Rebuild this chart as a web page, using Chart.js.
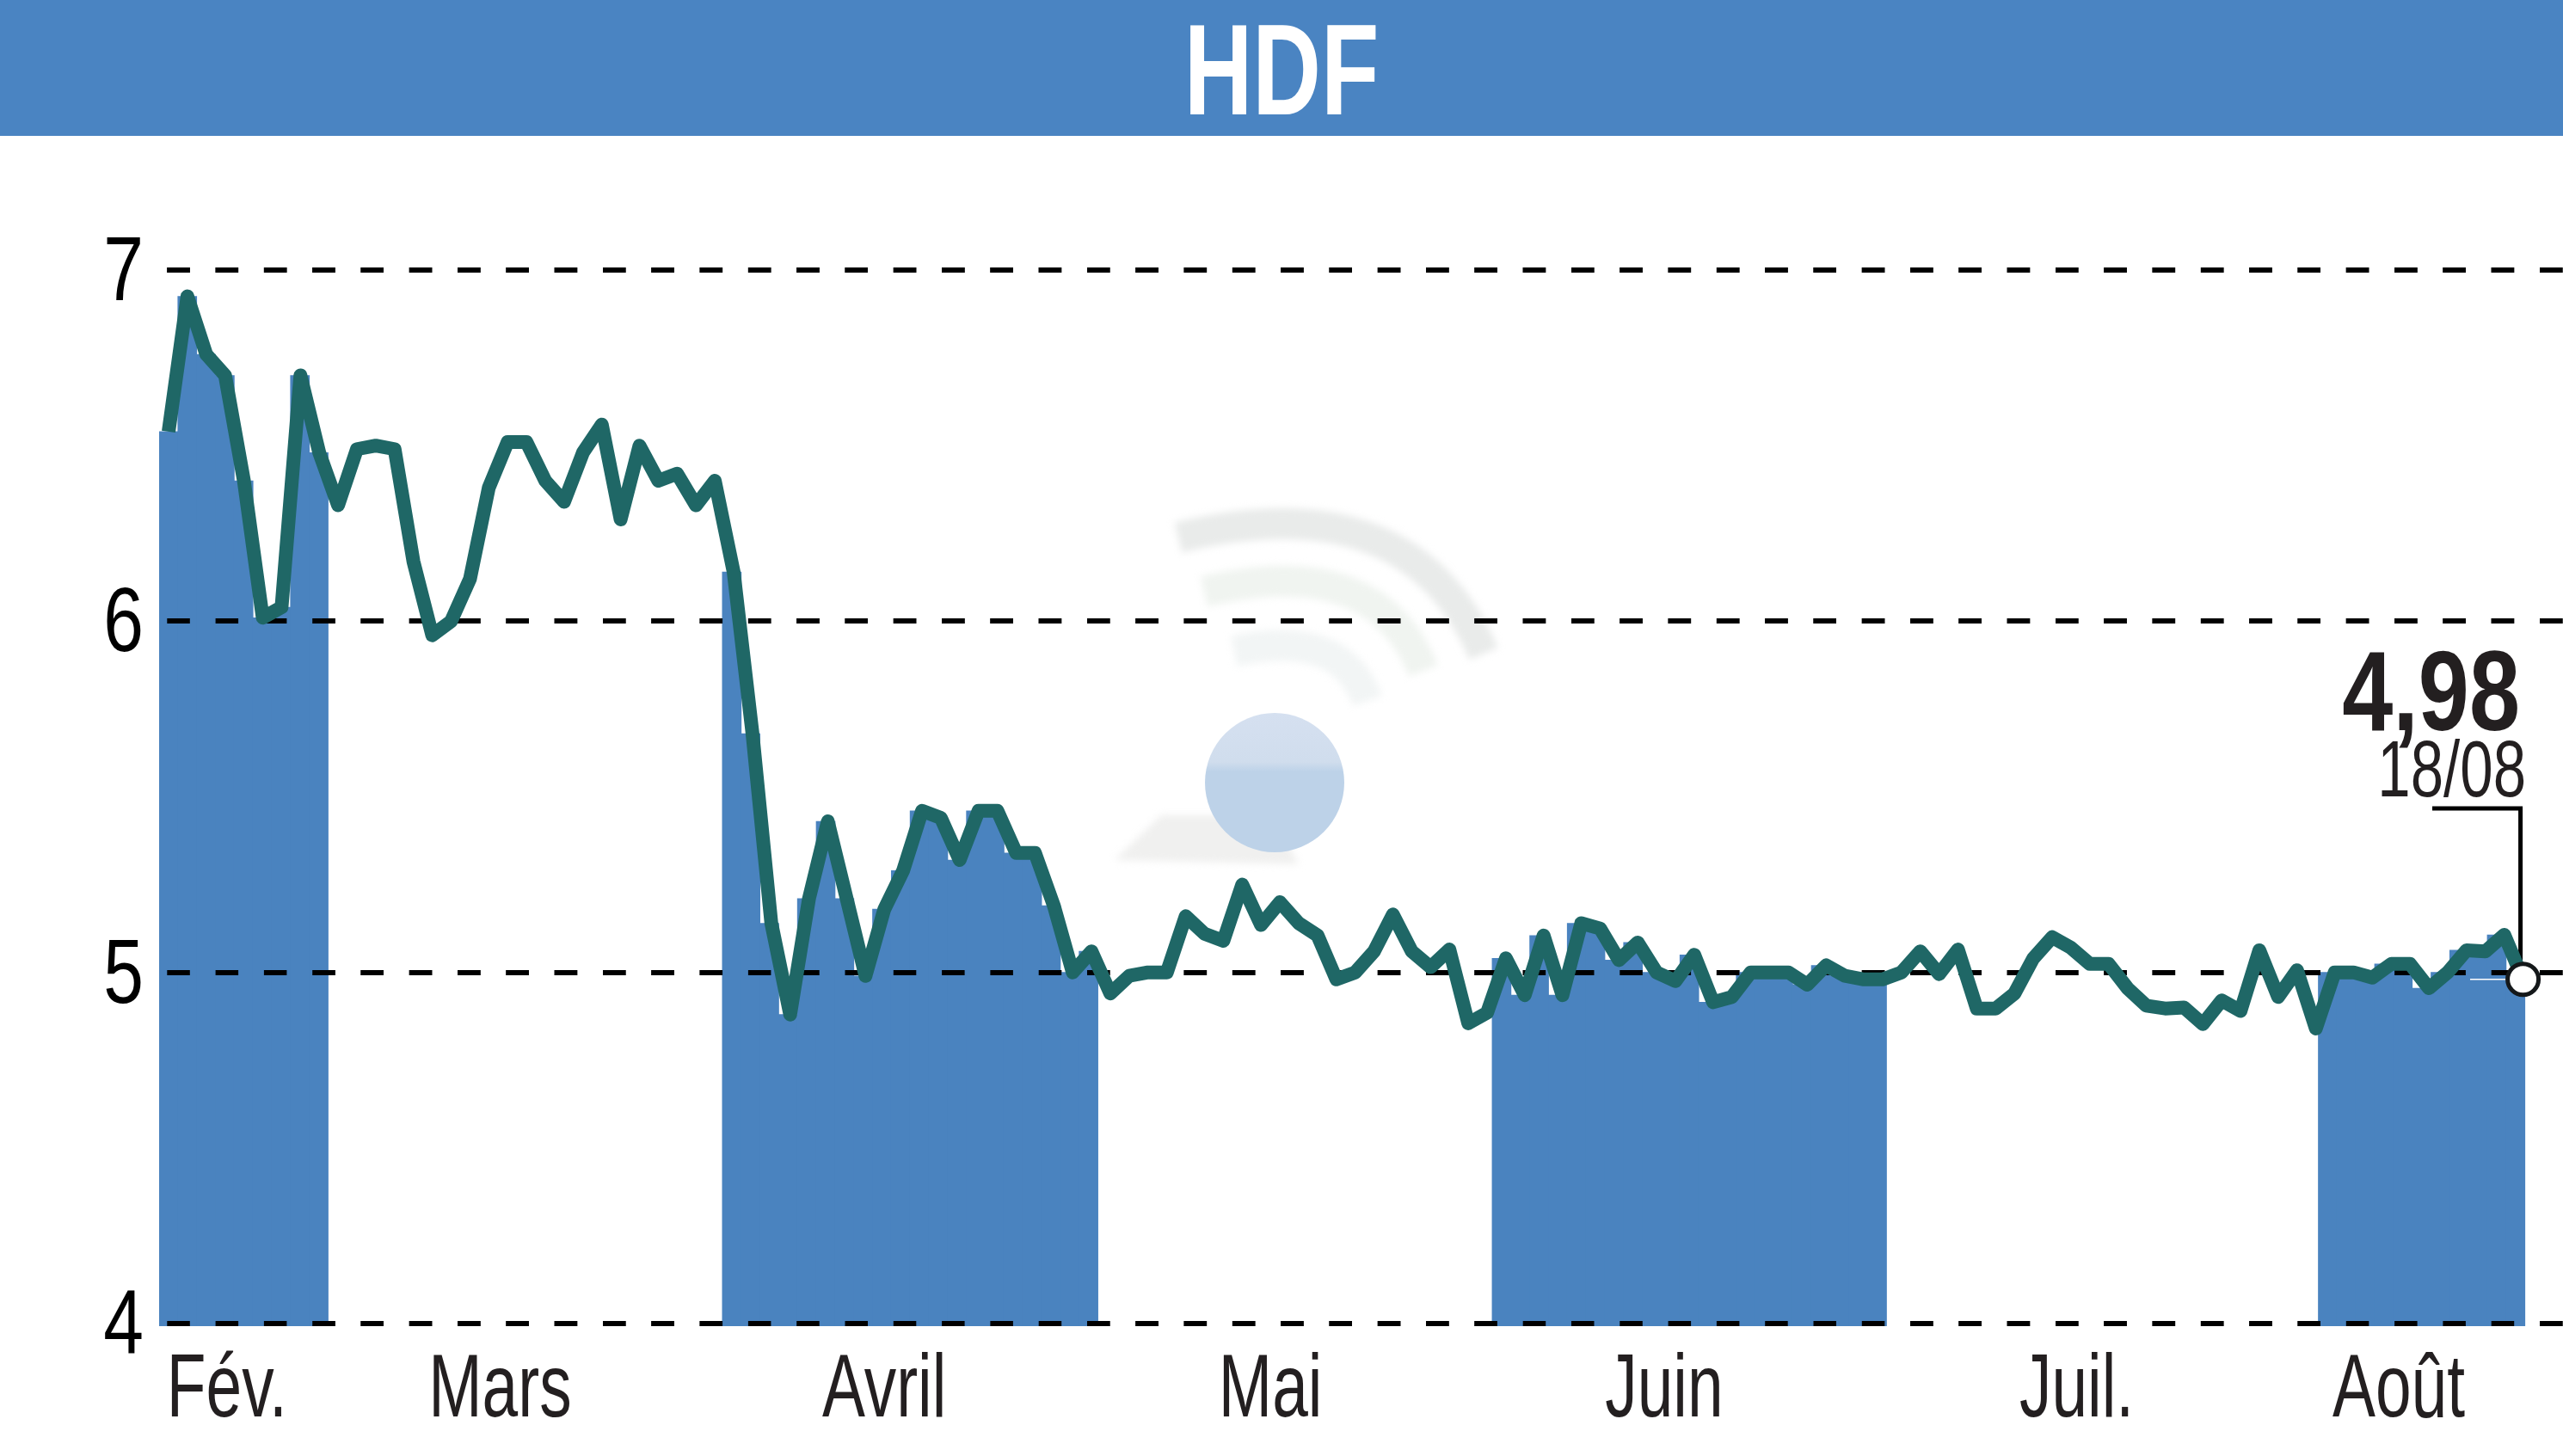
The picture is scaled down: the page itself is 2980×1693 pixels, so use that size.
<!DOCTYPE html>
<html lang="fr"><head><meta charset="utf-8"><title>HDF</title>
<style>html,body{margin:0;padding:0;background:#fff}canvas{display:block}</style>
<script src="https://cdn.jsdelivr.net/npm/chart.js@4"></script></head>
<body><canvas id="c" width="2980" height="1693"></canvas>
<script>
const titleText = 'HDF';
const monthLabels = ['Fév.','Mars','Avril','Mai','Juin','Juil.','Août'];
const monthTickPos = [3.1,17.6,38.0,58.5,79.4,101.3,118.4];
const yTicks = [4,5,6,7];
const dateLabel = '18/08';
const fev = [6.54,6.925,6.76,6.70,6.40,6.01,6.04,6.70,6.48];
const mars = [6.33,6.49,6.50,6.49,6.17,5.96,6.00,6.12,6.38,6.51,6.51,6.40,6.34,6.48,6.56,6.29,6.50,6.40,6.42,6.33,6.40];
const avril = [6.14,5.68,5.14,4.88,5.21,5.43,5.21,4.99,5.18,5.29,5.46,5.44,5.32,5.46,5.46,5.34,5.34,5.19,5.00,5.06];
const mai = [4.94,4.99,5.00,5.00,5.16,5.11,5.09,5.25,5.135,5.20,5.14,5.105,4.98,5.00,5.06,5.165,5.06,5.015,5.065,4.855,4.885];
const juin = [5.04,4.935,5.105,4.935,5.14,5.125,5.035,5.085,5.00,4.975,5.05,4.915,4.93,5.00,5.00,5.00,4.965,5.02,4.99,4.98,4.98];
const juil = [5.00,5.06,4.995,5.065,4.897,4.897,4.94,5.04,5.10,5.07,5.024,5.024,4.955,4.905,4.897,4.90,4.853,4.92,4.89,5.063,4.93,5.006,4.84];
const aout = [5.00,5.00,4.985,5.024,5.024,4.955,5.00,5.063,5.06,5.107,4.98];
const months = [fev,mars,avril,mai,juin,juil,aout];
const shadedMonths = [fev,avril,juin,aout];

const BLUE='#4a83bf', TEAL='#1f6766', INK='#231f20';
const FONT='"Liberation Sans Narrow","Liberation Sans",sans-serif';
const closes = months.flat();
const lastIdx = closes.length-1;
const linePts = closes.map((y,x)=>({x,y}));
let cursor=0; const barPts=[];
months.forEach(m=>{ m.forEach((y,k)=>{ if(shadedMonths.includes(m)) barPts.push({x:cursor+k,y}); }); cursor+=m.length; });

const squeeze={150:.735,132:.805,92:.75,104:.72,105:.8};
const nudgeY={105:6};
const cv=document.getElementById('c'), ctx=cv.getContext('2d');
const rawFill=ctx.fillText.bind(ctx);
ctx.fillText=function(t,x,y,w){
  const s=parseInt((ctx.font.match(/(\d+)px/)||[])[1]); const k=squeeze[s]||1;
  ctx.save(); ctx.translate(x,y+(nudgeY[s]||0)); ctx.scale(k,1); rawFill(t,0,0); ctx.restore();
};

const banner={id:'banner',beforeDraw(ch){const c=ch.ctx;c.save();c.fillStyle='#4a84c2';c.fillRect(0,0,ch.width,158);
  // faint watermark
  c.filter='blur(4px)';
  const arc=(a,b,cx,cy,d,e,col)=>{c.strokeStyle=col;c.lineWidth=36;c.lineCap='butt';c.beginPath();c.moveTo(a,b);c.quadraticCurveTo(cx,cy,d,e);c.stroke();};
  arc(1370,625,1640,560,1725,760,'#e9ebea');
  arc(1400,688,1600,640,1655,780,'#f0f4f0');
  arc(1435,757,1560,730,1590,815,'#f2f5f5');
  c.fillStyle='#f0f0ef';c.beginPath();c.moveTo(1296,1000);c.lineTo(1350,948);c.lineTo(1480,948);c.lineTo(1510,1005);c.closePath();c.fill();
  c.filter='none';
  const g=c.createLinearGradient(0,830,0,990);g.addColorStop(0,'#d5e0f0');g.addColorStop(.35,'#d0dded');g.addColorStop(.42,'#bdd2e8');g.addColorStop(1,'#bdd2e8');
  c.fillStyle=g;c.beginPath();c.arc(1482,910,81,0,Math.PI*2);c.fill();c.restore();}};

const overBars={id:'overBars',beforeDatasetDraw(ch,args){ if(args.index!==1) return;
  ch.scales.y.drawGrid(ch.chartArea);
  const c=ch.ctx,p=ch.getDatasetMeta(1).data[lastIdx];
  c.save();c.strokeStyle='#000';c.lineWidth=5;c.lineJoin='miter';c.beginPath();c.moveTo(2828,940);c.lineTo(p.x-3,940);c.lineTo(p.x-3,p.y);c.stroke();
  c.strokeStyle='#fff';c.lineWidth=1.5;c.beginPath();c.moveTo(2872,p.y);c.lineTo(2916,p.y);c.stroke();c.restore();
}};
const callout={id:'callout',afterDatasetsDraw(ch){const c=ch.ctx;
  c.save();c.fillStyle=INK;c.textAlign='right';c.textBaseline='alphabetic';
  c.font='bold 132px '+FONT;c.fillText(closes[lastIdx].toFixed(2).replace('.',','),2930,849);
  c.font='92px '+FONT;c.fillText(dateLabel,2937,926);c.restore();}};

new Chart(ctx,{
  data:{datasets:[
    {type:'bar',data:barPts,xAxisID:'xb',yAxisID:'y',backgroundColor:BLUE,borderWidth:0,barThickness:22,grouped:false,base:3.9926,order:2},
    {type:'line',data:linePts,xAxisID:'x',yAxisID:'y',borderColor:TEAL,borderWidth:16,tension:0,fill:false,borderJoinStyle:'round',borderCapStyle:'butt',clip:false,order:1,
     pointRadius:c=>c.dataIndex===lastIdx?18:0,pointBackgroundColor:'#fff',pointBorderColor:'#14181a',pointBorderWidth:5}
  ]},
  plugins:[banner,overBars,callout],
  options:{responsive:false,animation:false,devicePixelRatio:1,events:[],
    layout:{padding:0,autoPadding:false},
    plugins:{legend:{display:false},tooltip:{enabled:false},
      title:{display:true,text:titleText,color:'#fff',font:{family:FONT,size:150,weight:'bold',lineHeight:1},padding:{top:17,bottom:147}}},
    scales:{
      x:{type:'linear',position:'bottom',offset:false,min:-0.502,max:127.12,
        afterBuildTicks:s=>{s.ticks=monthTickPos.map(value=>({value}));},
        afterFit:s=>{s.height=151;s.paddingLeft=0;s.paddingRight=0;},
        grid:{display:false},border:{display:false},
        ticks:{autoSkip:false,maxRotation:0,minRotation:0,padding:16,color:INK,font:{family:FONT,size:104,lineHeight:1},callback:(v,i)=>monthLabels[i]}},
      xb:{type:'linear',position:'bottom',display:false,offset:false,min:-0.5,max:127.53,
        afterFit:s=>{s.paddingLeft=0;s.paddingRight=0;}},
      y:{type:'linear',position:'left',min:3.9926,max:7,
        afterBuildTicks:s=>{s.ticks=yTicks.map(value=>({value}));},
        afterFit:s=>{s.width=185;},
        border:{display:false,dash:[26.5,29.8],dashOffset:47},
        grid:{color:'#000',lineWidth:6,drawTicks:false},
        ticks:{padding:18,color:'#000',font:{family:FONT,size:105,lineHeight:1},callback:v=>String(v)}}
    }
  }
});
</script></body></html>
